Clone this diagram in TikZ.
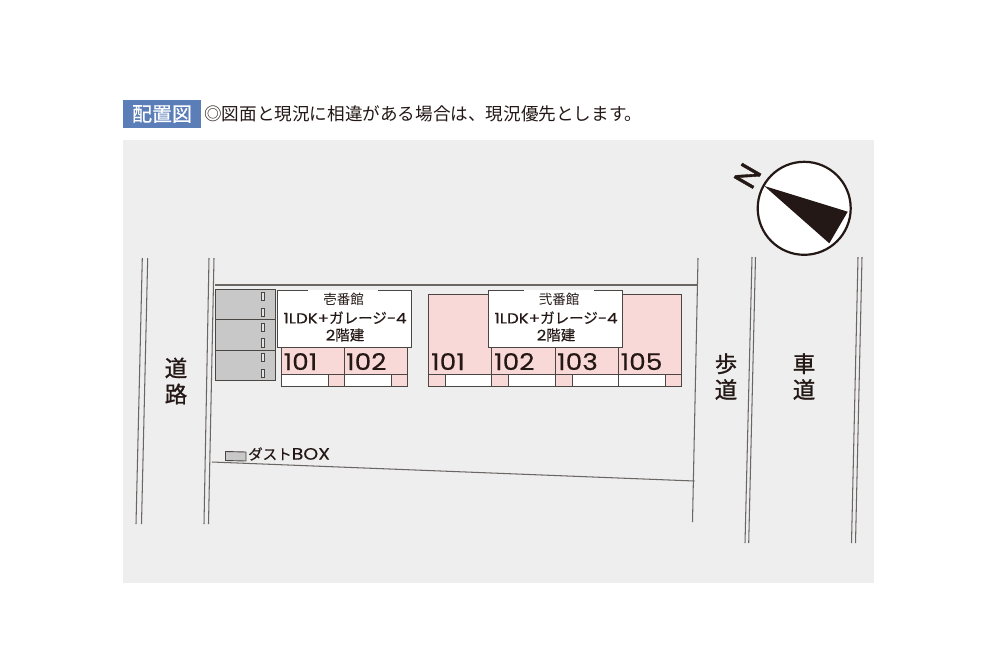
\documentclass[tikz,border=0pt]{standalone}
\usepackage{fontspec}
\setmainfont{Noto Sans CJK JP}
\newfontfamily\numfont[FakeStretch=1.15,FakeBold=0.25]{Poppins}
\newfontfamily\northfont[FakeBold=1.2]{Poppins}
\newfontfamily\heavycjk[FakeBold=1.0]{Noto Sans CJK JP}
\newfontfamily\midcjk[FakeBold=0.35]{Noto Sans CJK JP}
\tikzset{
  road/.style={draw=linegray,line width=1.05pt},
  unit/.style={draw=linedark,line width=1pt,fill=pinkfill},
  bar/.style={draw=linedark,line width=1pt,fill=white},
  stall/.style={draw=linedark,line width=1pt,fill=stallgray},
  slot/.style={draw=linedark,line width=0.9pt,fill=slotgray},
  labelbox/.style={draw=linedark,line width=1pt,fill=white},
  txt/.style={inner sep=0pt,text=textdark,align=center},
  num/.style={inner sep=0pt,text=textdark,font=\numfont\fontsize{23}{23}\selectfont},
  ttl/.style={txt,font=\fontsize{13.5}{13.5}\selectfont},
  spec/.style={txt,font=\midcjk\fontsize{14.5}{17}\selectfont},
  roadname/.style={txt,font=\heavycjk\fontsize{22.5}{26}\selectfont},
}
\definecolor{linegray}{HTML}{6A6664}
\definecolor{linedark}{HTML}{4A4644}
\definecolor{pinkfill}{HTML}{F9D9D8}
\definecolor{stallgray}{HTML}{C8C8C8}
\definecolor{slotgray}{HTML}{E4E4E4}
\definecolor{bggray}{HTML}{EEEEEE}
\definecolor{headblue}{HTML}{5B7DB8}
\definecolor{textdark}{HTML}{231815}
\begin{document}
\begin{tikzpicture}[x=1pt,y=-1pt]
\useasboundingbox (0,0) rectangle (1000,667);
\fill[white] (0,0) rectangle (1000,667);
\fill[bggray] (123,140) rectangle (874,583);
% heading
\node[fill=headblue,minimum width=78pt,minimum height=28pt,inner sep=0pt,text=white,font=\midcjk\fontsize{20}{20}\selectfont] (head) at (162,114) {配置図};
\node[txt,anchor=west,font=\fontsize{17.6}{17.6}\selectfont] (note) at (204,113.5) {◎図面と現況に相違がある場合は、現況優先とします。};
% roads
\draw[road] (147.7,258) -- (141.5,524);
\draw[road] (142.3,258) -- (136,524);
\draw[road] (214,258) -- (208.5,524);
\draw[road] (209,258) -- (204,524);
\draw[road] (215,285) -- (697.5,285);
\draw[road] (698,258) -- (692.5,522);
\draw[road] (212,462) -- (694.5,481);
\draw[road] (755.5,257) -- (748.7,543);
\draw[road] (752,257) -- (745,543);
\draw[road] (862,257) -- (855.5,543);
\draw[road] (858,257) -- (851.5,543);
% stalls
\foreach \ya/\yb in {289.5/319.5,319.5/350,350/380}{
  \draw[stall] (215.5,\ya) rectangle (275,\yb);
}
\foreach \ya in {292,308,323,338.5,353,369}{
  \draw[slot] (261,\ya) rectangle (264.5,\ya+8.5);
}
% block one
\draw[unit] (281.5,347) rectangle (344.3,386.7);
\draw[unit] (344.3,347) rectangle (407.7,386.7);
\draw[linedark,line width=1pt] (281.5,374) -- (407.7,374);
\draw[bar] (281.5,374) rectangle (328,386.7);
\draw[bar] (344.3,374) rectangle (391.3,386.7);
\draw[labelbox] (277.7,290.8) rectangle (411.5,347);
\fill[white] (308,289.5) rectangle (378,292);
\node[ttl] (t1) at (343.5,299.5) {壱番館};
\node[spec] (s1) at (345,326.5) {{\numfont 1LDK+}ガレージ{\numfont -4}\\{\numfont 2}階建};
\node[num,anchor=base west] (n1a) at (283.5,370) {101};
\node[num,anchor=base west] (n1b) at (346,370) {102};
% block two
\draw[unit] (428.7,294.3) rectangle (681.7,386.7);
\draw[linedark,line width=1pt] (428.7,374) -- (681.7,374);
\foreach \xx in {491.7,555,618.3}{
  \draw[linedark,line width=1pt] (\xx,347) -- (\xx,386.7);
}
\draw[bar] (445.3,374) rectangle (491.7,386.7);
\draw[bar] (508.7,374) rectangle (555,386.7);
\draw[bar] (572,374) rectangle (618.3,386.7);
\draw[bar] (618.3,374) rectangle (665,386.7);
\draw[labelbox] (488.3,290.5) rectangle (622.3,347.3);
\fill[white] (524,289.5) rectangle (594,292);
\node[ttl] (t2) at (559,299.5) {弐番館};
\node[spec] (s2) at (556,326.5) {{\numfont 1LDK+}ガレージ{\numfont -4}\\{\numfont 2}階建};
\node[num,anchor=base west] (n2a) at (431,370) {101};
\node[num,anchor=base west] (n2b) at (494,370) {102};
\node[num,anchor=base west] (n2c) at (557,370) {103};
\node[num,anchor=base west] (n2d) at (620.5,370) {105};
% dust box
\draw[stall,line width=0.9pt] (225.5,451.5) -- (246,452) -- (246,461) -- (225.5,460.5) -- cycle;
\node[txt,anchor=west,font=\midcjk\fontsize{14.5}{14.5}\selectfont] (dust) at (248,454) {ダスト{\numfont\fontsize{16.5}{16.5}\selectfont BOX}};
% road names
\node[roadname] (r1) at (176,381) {道\\路};
\node[roadname] (r2) at (726,376.5) {歩\\道};
\node[roadname] (r3) at (804,376.5) {車\\道};
% compass
\node[circle,draw=textdark,line width=2.2pt,fill=white,minimum size=93pt,inner sep=0pt] (comp) at (804.2,208.3) {};
\fill[textdark] (764.3,186) -- (847.7,211.7) -- (829.3,243.3) -- cycle;
\node[inner sep=0pt,rotate=60,text=textdark,font=\northfont\fontsize{31}{31}\selectfont] (north) at (747.5,175.8) {N};
\end{tikzpicture}
\end{document}
